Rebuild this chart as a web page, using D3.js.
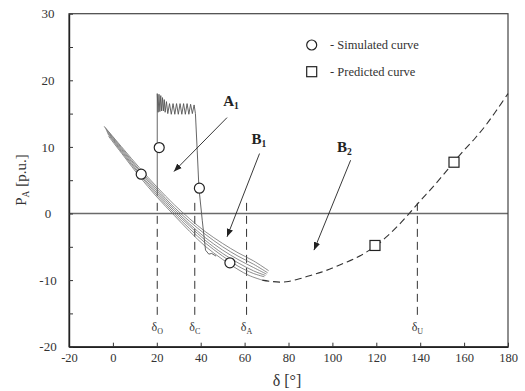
<!DOCTYPE html>
<html><head><meta charset="utf-8">
<script src="https://cdn.jsdelivr.net/npm/d3@7"></script>
<style>
body{margin:0;background:#fff;}
svg{display:block;font-family:"Liberation Serif","Times New Roman",serif;}
</style></head>
<body><svg id="c" width="525" height="391"></svg>
<script>
// ---- data ----
const xTicks = [-20,0,20,40,60,80,100,120,140,160,180];
const yTicks = [-20,-15,-10,-5,0,5,10,15,20,25,30];
const yLabels = [-20,-10,0,10,20,30];

// hysteresis bundle (simulated), several traces [delta, P]
const bundle1 = [[-4,13.1],[5,9.6],[12,6.9],[20,4.0],[28,1.3],[35,-0.8],[42,-2.7],[50,-4.5],[57,-5.9],[64,-7.1],[71,-8.6]];
const bundle2 = [[-3.6,12.9],[5,9.4],[12,6.6],[20,3.7],[28,0.9],[35,-1.2],[42,-3.1],[50,-5.0],[57,-6.4],[64,-7.6],[70.5,-8.9]];
const bundle3 = [[-3.2,12.6],[5,9.2],[12,6.4],[20,3.4],[28,0.6],[35,-1.6],[42,-3.6],[50,-5.5],[57,-6.9],[64,-8.1],[70,-9.1]];
const bundle4 = [[-2.8,12.3],[5,9.0],[12,6.1],[20,3.1],[28,0.3],[35,-1.9],[42,-4.0],[50,-6.0],[57,-7.4],[64,-8.6],[69.5,-9.3]];
const bundle5 = [[-2.4,12.0],[5,8.8],[12,5.9],[20,2.8],[28,0.0],[35,-2.3],[42,-4.4],[50,-6.4],[57,-7.9],[64,-9.0],[69,-9.5]];
const bundle6 = [[-2,11.6],[5,8.6],[12,5.6],[20,2.5],[28,-0.3],[35,-2.7],[42,-4.9],[50,-6.9],[57,-8.4],[62,-9.3],[68,-10.0]];
const bundles = [bundle1,bundle2,bundle3,bundle4,bundle5,bundle6];

// fault trajectory: vertical rise, oscillation, fall back to bundle
const spike = [[20.2,2.6],[20.2,18.0],[20.6,15.2],[21.0,17.9],[21.4,15.3],[21.8,17.7],[22.2,15.4],[22.6,17.4],[23.0,15.4],[23.4,17.1],[23.8,15.2],[24.4,16.8],[25.0,15.0],[25.8,16.5],[26.6,14.9],[27.4,16.5],[28.2,14.9],[29.0,16.5],[29.8,14.9],[30.6,16.5],[31.4,14.9],[32.2,16.5],[33.0,14.9],[33.8,16.5],[34.6,14.9],[35.4,16.4],[36.2,15.0],[37.0,16.3],[37.6,15.0],[38.4,9.5],[39.2,3.8],[40.7,-1.0],[42.2,-5.5],[43.7,-6.1],[45,-6.0],[47,-6.4]];

// predicted curve (dashed)
const predicted = [[68,-10.0],[72,-10.2],[76,-10.3],[80,-10.2],[85,-9.8],[90,-9.3],[95,-8.8],[100,-8.2],[105,-7.5],[110,-6.8],[115,-5.9],[120,-4.8],[125,-3.4],[130,-1.8],[135,0.0],[140,1.9],[145,3.7],[150,5.6],[155,7.6],[160,9.5],[165,11.3],[170,13.3],[175,15.6],[180,18.0]];

const simMarkers = [[12.9,5.9],[21.1,9.9],[39.4,3.8],[53.3,-7.4]];
const predMarkers = [[119.4,-4.8],[155.4,7.7]];

// characteristic angles
const angleNames = ["O","C","A","U"];
const angleValues = [20.2,37.3,60.9,138.7];
const angleTop = [1.6,1.6,1.6,1.6];

// region labels and arrows (data units)
const regionNames = ["A","B","B"];
const regionSubs = ["1","1","2"];
const regionLabelPos = [[53.8,16.2],[66.5,10.5],[105.5,9.3]];
const regionArrowFrom = [[52,14.4],[66.8,9.0],[108.3,8.0]];
const regionArrowTo = [[27.8,6.3],[52,-3.5],[91.6,-5.5]];

// ---- drawing ----
const svg = d3.select("#c");
const x = d3.scaleLinear().domain([-20,180]).range([69,508]);
const y = d3.scaleLinear().domain([-20,30]).range([346.7,13.7]);
const fmt = d => String(d);

const defs = svg.append("defs");
defs.append("marker").attr("id","ah").attr("viewBox","0 0 10 10").attr("refX",10).attr("refY",5)
  .attr("markerWidth",8).attr("markerHeight",8).attr("markerUnits","userSpaceOnUse").attr("orient","auto")
  .append("path").attr("d","M0,1 L10,5 L0,9 Z").attr("fill","#222");

// zero line
svg.append("line").attr("x1",x(-20)).attr("x2",x(180)).attr("y1",y(0)).attr("y2",y(0))
  .attr("stroke","#6a6a6a").attr("stroke-width",1.5);

// frame
svg.append("rect").attr("x",x(-20)).attr("y",y(30)).attr("width",x(180)-x(-20)).attr("height",y(-20)-y(30))
  .attr("fill","none").attr("stroke","#444").attr("stroke-width",1.2);

// axes
const xAxis = svg.append("g").attr("transform",`translate(0,${y(-20)})`)
  .call(d3.axisBottom(x).tickValues(xTicks).tickSizeInner(-4).tickSizeOuter(0).tickPadding(6).tickFormat(fmt));
xAxis.select(".domain").attr("stroke","#222").attr("stroke-width",1.4);
xAxis.selectAll(".tick line").attr("stroke","#333");
xAxis.selectAll("text").attr("font-size","12.5px").attr("fill","#333").attr("font-family","Liberation Serif");

const yAxis = svg.append("g").attr("transform",`translate(${x(-20)},0)`)
  .call(d3.axisLeft(y).tickValues(yTicks).tickSizeInner(-4).tickSizeOuter(0).tickPadding(13)
    .tickFormat(d => yLabels.includes(d) ? fmt(d) : ""));
yAxis.select(".domain").attr("stroke","#222").attr("stroke-width",1.4);
yAxis.selectAll(".tick line").attr("stroke","#333");
yAxis.selectAll("text").attr("font-size","13px").attr("fill","#333").attr("font-family","Liberation Serif")
  .attr("text-anchor","middle").attr("x",-21);

// dashed angle markers
const ang = svg.append("g");
angleValues.forEach((v,i)=>{
  ang.append("line").attr("x1",x(v)).attr("x2",x(v)).attr("y1",y(angleTop[i])).attr("y2",318)
    .attr("stroke","#333").attr("stroke-width",1).attr("stroke-dasharray","8,5");
  const t = ang.append("text").attr("x",x(v)).attr("y",331).attr("text-anchor","middle")
    .attr("font-size","12px").attr("fill","#333");
  t.append("tspan").text("δ");
  t.append("tspan").attr("font-size","8px").attr("dy",3).text(angleNames[i]);
});

// bundle
const line = d3.line().x(d=>x(d[0])).y(d=>y(d[1])).curve(d3.curveCatmullRom);
bundles.forEach(b=>{
  svg.append("path").attr("d",line(b)).attr("fill","none").attr("stroke","#6f6f6f").attr("stroke-width",0.8);
});

// spike trajectory
const lineLin = d3.line().x(d=>x(d[0])).y(d=>y(d[1]));
svg.append("path").attr("d",lineLin(spike)).attr("fill","none").attr("stroke","#555").attr("stroke-width",0.9);

// predicted dashed
svg.append("path").attr("d",line(predicted)).attr("fill","none").attr("stroke","#333")
  .attr("stroke-width",1.1).attr("stroke-dasharray","7,4");

// arrows & labels
regionNames.forEach((n,i)=>{
  svg.append("line").attr("x1",x(regionArrowFrom[i][0])).attr("y1",y(regionArrowFrom[i][1]))
    .attr("x2",x(regionArrowTo[i][0])).attr("y2",y(regionArrowTo[i][1]))
    .attr("stroke","#222").attr("stroke-width",0.9).attr("marker-end","url(#ah)");
  const t = svg.append("text").attr("x",x(regionLabelPos[i][0])).attr("y",y(regionLabelPos[i][1]))
    .attr("text-anchor","middle").attr("font-weight","bold").attr("font-size","15px").attr("fill","#222");
  t.append("tspan").text(n);
  t.append("tspan").attr("font-size","9.5px").attr("dy",3).text(regionSubs[i]);
});

// markers
svg.selectAll("circle.sim").data(simMarkers).join("circle").attr("class","sim")
  .attr("cx",d=>x(d[0])).attr("cy",d=>y(d[1])).attr("r",5)
  .attr("fill","#fff").attr("stroke","#222").attr("stroke-width",1.2);
svg.selectAll("rect.pred").data(predMarkers).join("rect").attr("class","pred")
  .attr("x",d=>x(d[0])-5).attr("y",d=>y(d[1])-5).attr("width",10).attr("height",10)
  .attr("fill","#fff").attr("stroke","#222").attr("stroke-width",1.2);

// legend
svg.append("circle").attr("cx",311.7).attr("cy",45).attr("r",5).attr("fill","#fff").attr("stroke","#222").attr("stroke-width",1.2);
svg.append("text").attr("x",330).attr("y",49).attr("font-size","12.5px").attr("fill","#333").text("- Simulated curve");
svg.append("rect").attr("x",306.7).attr("y",66.7).attr("width",10).attr("height",10).attr("fill","#fff").attr("stroke","#222").attr("stroke-width",1.2);
svg.append("text").attr("x",330).attr("y",75.7).attr("font-size","12.5px").attr("fill","#333").text("- Predicted curve");

// axis titles
svg.append("text").attr("x",287).attr("y",386).attr("text-anchor","middle").attr("font-size","16px").attr("fill","#333").text("δ [°]");
const yt = svg.append("text").attr("transform","translate(26,180) rotate(-90)").attr("text-anchor","middle")
  .attr("font-size","15px").attr("fill","#333");
yt.append("tspan").text("P");
yt.append("tspan").attr("font-size","9.5px").attr("dy",3).text("A");
yt.append("tspan").attr("dy",-3).text("  [p.u.]");
</script></body></html>
